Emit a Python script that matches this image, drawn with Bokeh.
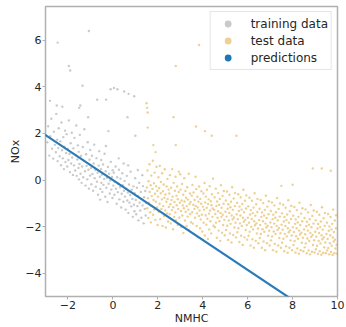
from bokeh.plotting import figure
from bokeh.models import FixedTicker, Range1d, Legend, LegendItem
from bokeh.embed import file_html
from bokeh.resources import INLINE

# ---- training data: (NMHC, NOx) pairs ----
train_pts = [
 (-2.92,1.62),(-2.88,2.31),(-2.83,1.05),(-2.79,1.88),(-2.74,2.63),(-2.71,1.34),(-2.66,0.92),(-2.63,2.07),(-2.58,1.51),(-2.54,1.19),(-2.52,2.84),
 (-2.48,1.73),(-2.46,0.81),(-2.43,1.37),(-2.41,2.22),(-2.37,1.02),(-2.34,1.66),(-2.31,0.64),(-2.29,2.47),(-2.26,1.28),(-2.23,0.93),(-2.21,1.84),(-2.18,0.47),(-2.16,1.43),(-2.13,2.12),(-2.11,0.77),(-2.08,1.16),(-2.06,1.97),(-2.03,0.58),(-2.01,1.33),
 (-1.98,0.86),(-1.96,2.56),(-1.93,1.12),(-1.91,0.34),(-1.88,1.58),(-1.86,0.71),(-1.83,2.03),(-1.81,0.97),(-1.78,0.22),(-1.76,1.36),(-1.73,0.63),(-1.71,1.81),(-1.68,0.41),(-1.66,1.07),(-1.63,2.34),(-1.61,0.18),(-1.58,0.88),(-1.56,1.49),(-1.53,0.52),(-1.51,0.03),(-1.52,1.21),
 (-1.49,0.69),(-1.47,1.94),(-1.44,0.27),(-1.42,1.03),(-1.39,-0.12),(-1.37,0.58),(-1.34,1.42),(-1.32,0.12),(-1.29,0.83),(-1.27,2.18),(-1.24,0.38),(-1.22,-0.24),(-1.19,1.11),(-1.17,0.61),(-1.14,0.03),(-1.12,1.62),(-1.09,0.44),(-1.07,-0.37),(-1.04,0.87),(-1.02,0.19),(-1.01,1.29),
 (-0.98,0.52),(-0.96,-0.18),(-0.93,1.04),(-0.91,0.26),(-0.88,-0.46),(-0.86,0.71),(-0.83,1.52),(-0.81,0.08),(-0.78,0.43),(-0.76,-0.29),(-0.73,0.94),(-0.71,-0.07),(-0.68,0.31),(-0.66,-0.63),(-0.63,0.62),(-0.61,1.24),(-0.58,0.14),(-0.56,-0.38),(-0.53,0.47),(-0.51,-0.12),(-0.52,0.86),(-0.57,-0.84),
 (-0.49,0.23),(-0.47,-0.51),(-0.44,0.67),(-0.42,-0.21),(-0.39,0.04),(-0.37,1.13),(-0.34,-0.72),(-0.32,0.38),(-0.29,-0.33),(-0.27,0.09),(-0.24,-0.94),(-0.22,0.56),(-0.19,-0.16),(-0.17,0.27),(-0.14,-0.58),(-0.12,-0.02),(-0.09,0.78),(-0.07,-0.41),(-0.04,0.13),(-0.02,-0.77),(-0.01,0.42),(-0.31,1.46),
 (0.02,-0.24),(0.04,0.31),(0.07,-0.63),(0.09,-0.08),(0.12,0.58),(0.14,-0.37),(0.17,-1.02),(0.19,0.12),(0.22,-0.52),(0.24,-0.16),(0.27,0.44),(0.29,-0.83),(0.32,-0.31),(0.34,0.06),(0.37,-1.18),(0.39,-0.59),(0.42,0.29),(0.44,-0.22),(0.47,-0.93),(0.49,-0.46),(0.48,0.71),(0.26,0.93),
 (0.52,-0.04),(0.54,-0.71),(0.57,-1.27),(0.59,-0.38),(0.62,0.18),(0.64,-0.88),(0.67,-0.53),(0.69,-1.41),(0.72,-0.19),(0.74,-0.97),(0.77,-0.64),(0.79,0.36),(0.82,-1.13),(0.84,-0.42),(0.87,-0.81),(0.89,-1.58),(0.92,-0.27),(0.94,-1.06),(0.97,-0.56),(0.99,0.08),(0.96,-1.34),(0.68,0.63),
 (1.02,-0.86),(1.04,-1.47),(1.07,-0.33),(1.09,-1.12),(1.12,-0.68),(1.14,-1.73),(1.17,-0.12),(1.19,-0.97),(1.22,-1.31),(1.24,-0.51),(1.27,-1.62),(1.29,-0.82),(1.32,-1.09),(1.34,-0.26),(1.37,-1.86),(1.39,-0.74),(1.42,-1.24),(1.44,-0.47),(1.46,-1.52),(1.48,-0.98),(1.31,0.21),(1.11,0.43),
]
train_outliers = [
 (-2.46,5.9),(-1.07,6.4),(-1.96,4.9),(-1.9,4.7),(-1.35,4.05),(-2.8,3.4),(-2.5,3.2),(-2.25,3.15),(-1.5,3.1),(-1.45,3.2),
 (-0.1,3.9),(0.05,3.95),(0.2,3.9),(0.5,3.8),(0.7,3.7),(0.95,3.6),(-0.7,3.45),(-0.3,3.45),(-1.1,2.7),(0.65,2.7),(-0.2,2.1),(1.0,1.9),
]

# ---- test data: (NMHC, NOx) pairs ----
test_pts = [
 (1.51,-0.32),(1.53,-1.21),(1.54,0.41),(1.56,-0.78),(1.58,-1.63),(1.59,-0.05),(1.61,-0.97),(1.63,0.68),(1.64,-0.51),(1.66,-1.38),(1.68,-0.22),(1.69,-1.82),(1.71,0.19),(1.73,-0.69),(1.74,-1.11),(1.76,-0.38),(1.78,0.83),(1.79,-1.49),(1.81,-0.86),(1.83,-0.14),(1.84,-1.27),(1.86,0.32),(1.88,-0.59),(1.89,-1.71),(1.91,-0.93),(1.93,-0.27),(1.94,0.57),(1.96,-1.18),(1.98,-0.46),(1.99,-1.93),
 (2.01,-0.71),(2.03,0.12),(2.04,-1.36),(2.06,-0.34),(2.08,-1.02),(2.09,0.61),(2.11,-1.68),(2.13,-0.57),(2.14,-0.08),(2.16,-1.24),(2.18,-0.83),(2.19,0.29),(2.21,-1.97),(2.23,-0.48),(2.24,-1.12),(2.26,-0.19),(2.28,-1.54),(2.29,-0.76),(2.31,0.46),(2.33,-1.31),(2.34,-0.62),(2.36,-2.04),(2.38,-0.93),(2.39,-0.27),(2.41,-1.43),(2.43,0.05),(2.44,-0.81),(2.46,-1.78),(2.48,-0.41),(2.49,-1.16),
 (2.51,-0.58),(2.53,-1.47),(2.54,0.21),(2.56,-1.04),(2.58,-1.86),(2.59,-0.33),(2.61,-0.86),(2.63,-1.29),(2.64,0.47),(2.66,-0.71),(2.68,-2.11),(2.69,-1.17),(2.71,-0.12),(2.73,-1.58),(2.74,-0.94),(2.76,-0.46),(2.78,-1.39),(2.79,0.14),(2.81,-1.72),(2.83,-0.67),(2.84,-1.08),(2.86,-0.28),(2.88,-1.93),(2.89,-0.82),(2.91,-1.24),(2.93,-0.51),(2.94,0.36),(2.96,-1.61),(2.98,-0.97),
 (3.01,-0.41),(3.03,-1.33),(3.04,-2.02),(3.06,-0.88),(3.08,-0.17),(3.09,-1.52),(3.11,-1.09),(3.13,-0.63),(3.14,-2.27),(3.16,-1.21),(3.18,0.08),(3.19,-0.92),(3.21,-1.74),(3.23,-0.47),(3.24,-1.36),(3.26,-0.76),(3.28,-1.98),(3.29,-1.12),(3.31,-0.31),(3.33,-1.57),(3.34,-0.84),(3.36,-1.27),(3.38,0.27),(3.39,-2.14),(3.41,-1.03),(3.43,-0.58),(3.44,-1.46),(3.46,-0.94),(3.48,-1.81),
 (3.51,-0.67),(3.53,-1.38),(3.54,-0.21),(3.56,-1.87),(3.58,-1.06),(3.59,-0.53),(3.61,-2.31),(3.63,-1.24),(3.64,-0.86),(3.66,-1.62),(3.68,0.14),(3.69,-1.11),(3.71,-0.39),(3.73,-1.97),(3.74,-1.43),(3.76,-0.72),(3.78,-1.18),(3.79,-2.46),(3.81,-0.93),(3.83,-1.54),(3.84,-0.28),(3.86,-1.31),(3.88,-2.07),(3.89,-0.81),(3.91,-1.69),(3.93,-1.02),(3.94,-0.48),(3.96,-1.49),(3.98,-2.21),
 (4.01,-1.14),(4.03,-0.58),(4.04,-1.83),(4.06,-1.27),(4.08,-0.13),(4.09,-2.38),(4.11,-0.96),(4.13,-1.51),(4.14,-0.71),(4.16,-1.92),(4.18,-1.19),(4.19,-0.42),(4.21,-1.66),(4.23,-2.53),(4.24,-1.03),(4.26,-0.83),(4.28,-1.44),(4.29,-2.12),(4.31,-0.27),(4.33,-1.31),(4.34,-1.77),(4.36,-0.91),(4.38,-2.29),(4.39,-1.08),(4.41,-0.61),(4.43,-1.58),(4.44,-1.22),(4.46,0.06),(4.48,-1.96),
 (4.51,-1.28),(4.53,-0.74),(4.54,-2.03),(4.56,-1.46),(4.58,-0.37),(4.59,-1.83),(4.61,-1.11),(4.63,-2.48),(4.64,-0.92),(4.66,-1.62),(4.68,-1.34),(4.69,-0.56),(4.71,-2.17),(4.73,-1.06),(4.74,-1.77),(4.76,-0.81),(4.78,-2.61),(4.79,-1.41),(4.81,-0.22),(4.83,-1.58),(4.84,-1.19),(4.86,-2.26),(4.88,-0.68),(4.89,-1.49),(4.91,-1.93),(4.93,-1.02),(4.94,-0.47),(4.96,-1.71),(4.98,-2.37),
 (5.01,-1.36),(5.03,-0.88),(5.04,-2.14),(5.06,-1.57),(5.08,-0.49),(5.09,-1.96),(5.11,-1.23),(5.13,-2.57),(5.14,-1.04),(5.16,-1.74),(5.18,-1.41),(5.19,-0.63),(5.21,-2.29),(5.23,-1.17),(5.24,-1.88),(5.26,-0.93),(5.28,-2.68),(5.29,-1.52),(5.31,-0.31),(5.33,-1.69),(5.34,-1.28),(5.36,-2.36),(5.38,-0.79),(5.39,-1.61),(5.41,-2.04),(5.43,-1.12),(5.44,-0.56),(5.46,-1.83),(5.48,-2.46),
 (5.51,-1.47),(5.53,-0.98),(5.54,-2.24),(5.56,-1.68),(5.58,-0.61),(5.59,-2.07),(5.61,-1.33),(5.63,-2.66),(5.64,-1.14),(5.66,-1.86),(5.68,-1.52),(5.69,-0.74),(5.71,-2.39),(5.73,-1.27),(5.74,-1.97),(5.76,-1.03),(5.78,-2.79),(5.79,-1.62),(5.81,-0.42),(5.83,-1.79),(5.84,-1.38),(5.86,-2.46),(5.88,-0.89),(5.89,-1.71),(5.91,-2.14),(5.93,-1.22),(5.94,-0.66),(5.96,-1.93),(5.98,-2.56),
 (6.01,-1.62),(6.03,-1.13),(6.04,-2.39),(6.06,-1.83),(6.08,-0.76),(6.09,-2.22),(6.11,-1.48),(6.13,-2.81),(6.14,-1.29),(6.16,-2.01),(6.18,-1.67),(6.19,-0.89),(6.21,-2.54),(6.23,-1.42),(6.24,-2.12),(6.26,-1.18),(6.28,-2.91),(6.29,-1.77),(6.31,-0.57),(6.33,-1.94),(6.34,-1.53),(6.36,-2.61),(6.38,-1.04),(6.39,-1.86),(6.41,-2.29),(6.43,-1.37),(6.44,-0.81),(6.46,-2.08),(6.48,-2.71),
 (6.51,-1.72),(6.53,-1.23),(6.54,-2.49),(6.56,-1.93),(6.58,-0.86),(6.59,-2.32),(6.61,-1.58),(6.63,-2.91),(6.64,-1.39),(6.66,-2.11),(6.68,-1.77),(6.69,-0.99),(6.71,-2.64),(6.73,-1.52),(6.74,-2.22),(6.76,-1.28),(6.78,-3.01),(6.79,-1.87),(6.81,-0.67),(6.83,-2.04),(6.84,-1.63),(6.86,-2.71),(6.88,-1.14),(6.89,-1.96),(6.91,-2.39),(6.93,-1.47),(6.94,-0.91),(6.96,-2.18),(6.98,-2.81),
 (7.01,-1.82),(7.03,-1.33),(7.04,-2.59),(7.06,-2.03),(7.08,-0.96),(7.09,-2.42),(7.11,-1.68),(7.13,-3.01),(7.14,-1.49),(7.16,-2.21),(7.18,-1.87),(7.19,-1.09),(7.21,-2.74),(7.23,-1.62),(7.24,-2.32),(7.26,-1.38),(7.28,-3.08),(7.29,-1.97),(7.31,-0.77),(7.33,-2.14),(7.34,-1.73),(7.36,-2.81),(7.38,-1.24),(7.39,-2.06),(7.41,-2.49),(7.43,-1.57),(7.44,-1.01),(7.46,-2.28),(7.48,-2.91),
 (7.51,-1.92),(7.53,-1.43),(7.54,-2.69),(7.56,-2.13),(7.58,-1.06),(7.59,-2.52),(7.61,-1.78),(7.63,-3.06),(7.64,-1.59),(7.66,-2.31),(7.68,-1.97),(7.69,-1.19),(7.71,-2.84),(7.73,-1.72),(7.74,-2.42),(7.76,-1.48),(7.78,-3.12),(7.79,-2.07),(7.81,-0.87),(7.83,-2.24),(7.84,-1.83),(7.86,-2.91),(7.88,-1.34),(7.89,-2.16),(7.91,-2.59),(7.93,-1.67),(7.94,-1.11),(7.96,-2.38),(7.98,-3.01),
 (8.01,-2.02),(8.03,-1.53),(8.04,-2.79),(8.06,-2.23),(8.08,-1.16),(8.09,-2.62),(8.11,-1.88),(8.13,-3.11),(8.14,-1.69),(8.16,-2.41),(8.18,-2.07),(8.19,-1.29),(8.21,-2.94),(8.23,-1.82),(8.24,-2.52),(8.26,-1.58),(8.28,-3.16),(8.29,-2.17),(8.31,-0.97),(8.33,-2.34),(8.34,-1.93),(8.36,-3.01),(8.38,-1.44),(8.39,-2.26),(8.41,-2.69),(8.43,-1.77),(8.44,-1.21),(8.46,-2.48),(8.48,-3.06),
 (8.51,-2.12),(8.53,-1.63),(8.54,-2.89),(8.56,-2.33),(8.58,-1.26),(8.59,-2.72),(8.61,-1.98),(8.63,-3.14),(8.64,-1.79),(8.66,-2.51),(8.68,-2.17),(8.69,-1.39),(8.71,-3.02),(8.73,-1.92),(8.74,-2.62),(8.76,-1.68),(8.78,-3.19),(8.79,-2.27),(8.81,-1.07),(8.83,-2.44),(8.84,-2.03),(8.86,-3.08),(8.88,-1.54),(8.89,-2.36),(8.91,-2.79),(8.93,-1.87),(8.94,-1.31),(8.96,-2.58),(8.98,-3.11),
 (9.01,-2.22),(9.03,-1.73),(9.04,-2.97),(9.06,-2.43),(9.08,-1.36),(9.09,-2.82),(9.11,-2.08),(9.13,-3.17),(9.14,-1.89),(9.16,-2.61),(9.18,-2.27),(9.19,-1.49),(9.21,-3.06),(9.23,-2.02),(9.24,-2.72),(9.26,-1.78),(9.28,-3.21),(9.29,-2.37),(9.31,-1.17),(9.33,-2.54),(9.34,-2.13),(9.36,-3.12),(9.38,-1.64),(9.39,-2.46),(9.41,-2.89),(9.43,-1.97),(9.44,-1.41),(9.46,-2.68),(9.48,-3.14),
 (9.51,-2.32),(9.53,-1.83),(9.54,-3.02),(9.56,-2.53),(9.58,-1.46),(9.59,-2.92),(9.61,-2.18),(9.63,-3.19),(9.64,-1.99),(9.66,-2.71),(9.68,-2.37),(9.69,-1.59),(9.71,-3.09),(9.73,-2.12),(9.74,-2.82),(9.76,-1.88),(9.78,-3.22),(9.79,-2.47),(9.81,-1.27),(9.83,-2.64),(9.84,-2.23),(9.86,-3.14),(9.88,-1.74),(9.89,-2.56),(9.91,-2.94),(9.93,-2.07),(9.94,-1.51),(9.96,-2.78),(9.98,-3.16),
]
test_outliers = [
 (1.5,3.3),(1.52,3.1),(1.55,2.9),(1.55,2.25),(1.8,1.5),(1.9,1.2),(2.7,2.7),(2.8,4.9),(2.8,1.5),(3.84,5.8),
 (3.7,2.3),(4.1,2.1),(4.4,1.9),(5.5,1.9),(3.0,0.25),(7.5,-0.25),(8.0,-0.2),(8.9,0.5),(9.3,0.5),(9.7,0.4),
]

# ---- linear-model predictions (straight line) ----
pred_x = [-3.0, 10.0]
pred_y = [1.93, -6.43]

x_ticks = [-2, 0, 2, 4, 6, 8, 10]
y_ticks = [-4, -2, 0, 2, 4, 6]

train_x = [q[0] for q in train_pts + train_outliers]
train_y = [q[1] for q in train_pts + train_outliers]
test_x = [q[0] for q in test_pts + test_outliers]
test_y = [q[1] for q in test_pts + test_outliers]

FONT = "DejaVu Sans"
TXT = "#262626"

p = figure(width=346, height=327, output_backend="svg", toolbar_location=None,
           x_range=Range1d(-3, 10), y_range=Range1d(-5, 7.45),
           min_border_left=45, min_border_right=9, min_border_top=6, min_border_bottom=28)
p.background_fill_color = "white"
p.border_fill_color = "white"
p.outline_line_color = "#b0b0b0"
p.outline_line_width = 1.5
p.xgrid.visible = False
p.ygrid.visible = False

r_train = p.scatter(train_x, train_y, size=2.4, color="#b8b8b8", alpha=0.75, line_color=None)
r_test = p.scatter(test_x, test_y, size=2.4, color="#dca42a", alpha=0.5, line_color=None)
p.line(pred_x, pred_y, line_color="#2a7ab8", line_width=2.2)
r_pred = p.scatter(pred_x, pred_y, size=2, color="#1f77b4", line_color=None)

for ax, ticks in ((p.xaxis[0], x_ticks), (p.yaxis[0], y_ticks)):
    ax.ticker = FixedTicker(ticks=ticks)
    ax.major_label_overrides = {t: ("\u2212" + str(-t) if t < 0 else str(t)) for t in ticks}
    ax.minor_tick_line_color = None
    ax.axis_line_color = None
    ax.major_tick_line_color = "#b0b0b0"
    ax.major_tick_out = 3
    ax.major_tick_in = 0
    ax.major_label_text_font = FONT
    ax.major_label_text_font_size = "11px"
    ax.major_label_text_color = TXT
    ax.axis_label_text_font = FONT
    ax.axis_label_text_font_size = "11px"
    ax.axis_label_text_font_style = "normal"
    ax.axis_label_text_color = TXT
    ax.major_label_standoff = 1
    ax.axis_label_standoff = 0

p.xaxis.axis_label = "NMHC"
p.yaxis.axis_label = "NOx"

legend = Legend(items=[LegendItem(label="training data", renderers=[r_train]),
                       LegendItem(label="test data", renderers=[r_test]),
                       LegendItem(label="predictions", renderers=[r_pred])],
                location="top_right")
legend.label_text_font = FONT
legend.label_text_font_size = "12px"
legend.label_text_color = TXT
legend.border_line_color = "#cccccc"
legend.border_line_width = 1
legend.background_fill_alpha = 0.85
legend.margin = 5
legend.padding = 3
legend.spacing = 0
legend.glyph_width = 28
legend.glyph_height = 17
legend.label_height = 17
legend.label_standoff = 9
p.add_layout(legend)

open("out.html", "w").write(file_html(p, INLINE))
